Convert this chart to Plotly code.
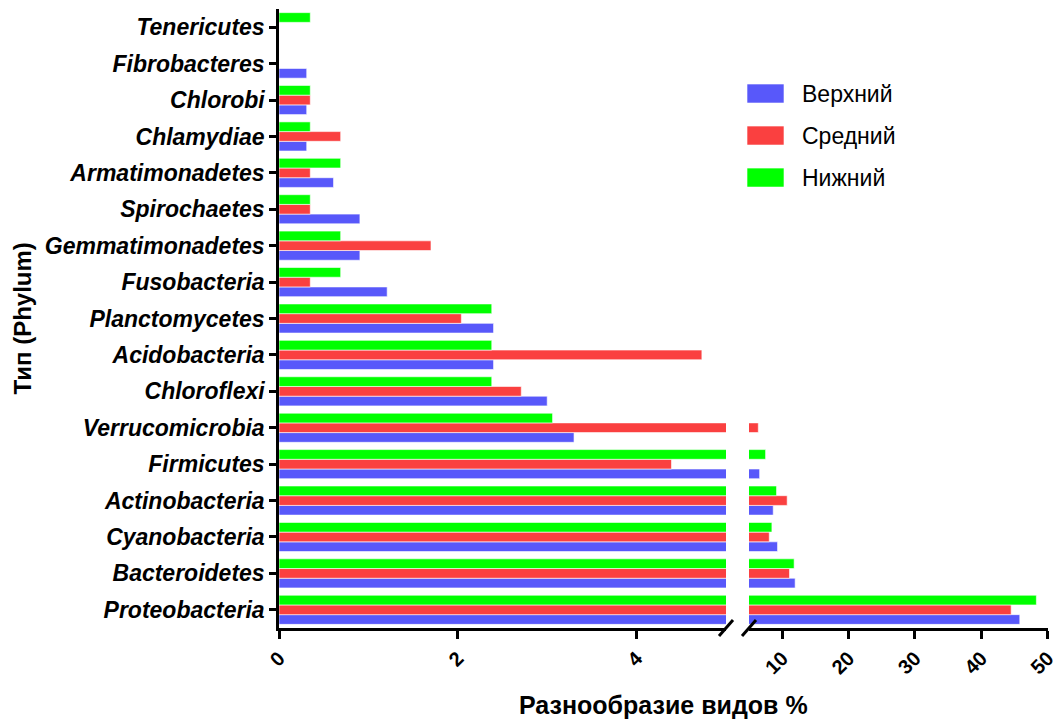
import plotly.graph_objects as go

categories = ["Proteobacteria", "Bacteroidetes", "Cyanobacteria", "Actinobacteria",
              "Firmicutes", "Verrucomicrobia", "Chloroflexi", "Acidobacteria",
              "Planctomycetes", "Fusobacteria", "Gemmatimonadetes", "Spirochaetes",
              "Armatimonadetes", "Chlamydiae", "Chlorobi", "Fibrobacteres", "Tenericutes"]

upper = [45.8, 11.95, 9.3, 8.65, 6.6, 3.30, 3.00, 2.40, 2.40, 1.21, 0.905, 0.905,
         0.61, 0.31, 0.31, 0.31, 0.0]
middle = [44.5, 11.1, 8.05, 10.75, 4.39, 6.4, 2.71, 4.73, 2.04, 0.35, 1.70, 0.35,
          0.35, 0.69, 0.35, 0.0, 0.0]
lower = [48.3, 11.8, 8.45, 9.15, 7.5, 3.06, 2.38, 2.38, 2.38, 0.69, 0.69, 0.35,
         0.69, 0.35, 0.35, 0.0, 0.35]

series_names = ["Верхний", "Средний", "Нижний"]
series_colors = ["#5858FA", "#FA4040", "#00FF00"]
series_values = [upper, middle, lower]

left_ticks = [0, 2, 4]
right_ticks = [10, 20, 30, 40, 50]

FONT = "Liberation Sans, Arial"

fig = go.Figure()
for name, color, vals in zip(series_names, series_colors, series_values):
    for xa in ("x", "x2"):
        fig.add_trace(go.Bar(
            y=categories, x=vals, orientation="h", name=name,
            marker=dict(color=color, line=dict(color="white", width=0.6)),
            xaxis=xa, yaxis="y", showlegend=False,
        ))

axis_font = dict(family=FONT, size=20, color="black", weight="bold")
common_x = dict(ticks="outside", ticklen=8, tickwidth=2.5, tickcolor="black",
                showline=True, linewidth=2.5, linecolor="black", showgrid=False,
                zeroline=False, tickangle=-45, tickfont=axis_font, anchor="y",
                ticklabeloverflow="allow", automargin=False)

L_DOM = [0, 0.5813]
R_DOM = [0.6112, 1]

fig.update_layout(
    width=1057, height=722,
    margin=dict(l=279, r=9, t=9, b=94, autoexpand=False),
    plot_bgcolor="white", paper_bgcolor="white",
    barmode="group", bargap=0.2, bargroupgap=0,
    showlegend=False,
    xaxis=dict(domain=L_DOM, range=[0, 5.0], tickvals=left_ticks, **common_x),
    xaxis2=dict(domain=R_DOM, range=[5, 50.05], tickvals=right_ticks, **common_x),
    yaxis=dict(categoryorder="array", categoryarray=categories,
               ticks="outside", ticklen=7, tickwidth=2.5, tickcolor="black",
               showline=True, linewidth=2.5, linecolor="black", showgrid=False,
               zeroline=False, automargin=False,
               tickfont=dict(family=FONT, size=23, color="black",
                             weight="bold", style="italic")),
    font=dict(family=FONT, color="black"),
)

fig.add_annotation(text="<b>Разнообразие видов %</b>", xref="paper", yref="paper",
                   x=0.5, y=0, yshift=-77, yanchor="middle", showarrow=False,
                   font=dict(family=FONT, size=25, color="black"))
fig.add_annotation(text="<b>Тип (Phylum)</b>", xref="paper", yref="paper",
                   x=0, xshift=-257, xanchor="center", y=0.5, yanchor="middle",
                   textangle=-90, showarrow=False,
                   font=dict(family=FONT, size=24, color="black"))

# legend (drawn as swatches + labels in paper space)
leg_x0, leg_x1, leg_top, leg_h, leg_step = 0.6086, 0.6567, 0.8788, 0.0307, 0.0679
for i, (name, color) in enumerate(zip(series_names, series_colors)):
    top = leg_top - i * leg_step
    fig.add_shape(type="rect", xref="paper", yref="paper",
                  x0=leg_x0, x1=leg_x1, y0=top - leg_h, y1=top,
                  fillcolor=color, line=dict(color="white", width=0.6))
    fig.add_annotation(text=name, xref="paper", yref="paper",
                       x=0.6775, y=top - leg_h / 2, xanchor="left", yanchor="middle",
                       showarrow=False, font=dict(family=FONT, size=23, color="black"))

# axis break marks
for xp in (L_DOM[1], R_DOM[0]):
    fig.add_shape(type="line", xref="paper", yref="paper",
                  xsizemode="pixel", ysizemode="pixel", xanchor=xp, yanchor=0,
                  x0=-7, x1=7, y0=-8, y1=8,
                  line=dict(color="black", width=3))

fig.write_html("out.html")
